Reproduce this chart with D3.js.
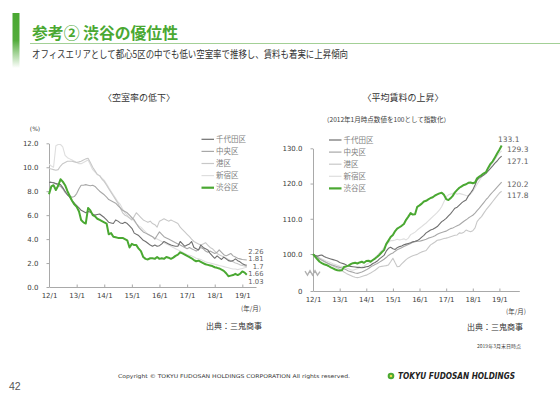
<!DOCTYPE html>
<meta charset="utf-8">
<title>参考② 渋谷の優位性</title>
<style>
body { margin: 0; background: #fff; }
svg { display: block; font-family: "Noto Sans CJK JP", sans-serif; }
.axis .domain, .axis line { stroke: #a9a9a9; }
.axis text { font-family: "DejaVu Sans", sans-serif; font-size: 7px; fill: #404040; }
</style>
<svg width="560" height="396"></svg>
<script src="https://cdn.jsdelivr.net/npm/d3@7/dist/d3.min.js"></script>
<script>
// ---- data (monthly, 2012/1 onwards) ----
var wards = ["千代田区", "中央区", "港区", "新宿区", "渋谷区"];
var wardColors = ["#6f6f6f", "#a8a8a8", "#c8c8c8", "#dedede", "#4aa832"];
var xTickLabels = ["12/1", "13/1", "14/1", "15/1", "16/1", "17/1", "18/1", "19/1"];
var vacancyTicks = [0, 2, 4, 6, 8, 10, 12];
var rentTicks = [100, 110, 120, 130];
var vacancyEndLabels = ["2.26", "1.81", "1.7", "1.66", "1.03"];
var rentEndLabels = ["133.1", "129.3", "127.1", "120.2", "117.8"];

// vacancy rate (%), 2012/1 - 2019/3
var vacChiyoda = [8.75,8.72,8.7,8.65,8.6,8.55,8.3,8.0,7.7,7.5,7.2,7.0,
  6.8,6.6,6.4,6.3,6.2,6.3,6.25,6.1,6.0,6.05,6.1,5.95,
  5.8,5.6,5.4,5.35,5.3,5.6,5.5,5.35,5.3,5.4,5.3,5.1,
  4.9,4.5,4.4,4.3,4.1,3.9,3.8,3.65,3.5,3.4,3.5,3.4,
  3.45,3.6,3.8,3.7,3.6,3.5,3.45,3.4,3.4,3.8,3.6,3.4,
  3.5,3.6,3.8,3.3,3.2,3.1,3.5,3.3,3.2,3.1,2.8,2.6,
  2.4,2.6,2.45,2.3,2.5,2.35,2.2,2.15,2.2,2.35,2.2,2.1,
  1.95,1.85,1.81];
var vacChuo = [8.8,8.75,8.7,8.6,8.5,8.4,8.2,7.9,7.7,7.6,7.5,7.55,
  7.8,8.2,8.5,8.5,8.55,8.5,8.45,8.5,8.4,8.2,8.0,7.85,
  7.7,7.5,7.3,7.2,7.1,7.0,6.8,6.6,6.4,6.3,6.2,6.0,
  5.8,5.6,5.3,5.0,4.8,4.6,4.5,4.4,4.3,4.2,4.0,4.3,
  4.6,4.4,4.2,4.1,4.0,3.9,3.8,3.7,3.6,3.5,3.4,3.3,
  3.2,3.3,3.2,3.1,3.0,3.1,3.3,3.2,3.0,2.9,3.0,2.9,
  2.8,2.9,3.1,2.9,2.7,2.6,2.7,2.8,2.6,2.5,2.4,2.35,
  2.3,2.28,2.26];
var vacMinato = [9.9,9.85,9.8,9.75,9.8,10.1,10.3,10.4,10.5,10.5,10.5,10.45,
  10.4,10.45,10.5,10.6,10.7,10.75,10.4,10.0,9.7,9.4,9.3,9.0,
  8.8,8.5,8.2,7.9,7.6,7.3,7.0,6.6,6.2,6.0,5.9,5.75,
  5.6,5.9,6.2,6.0,5.8,5.6,5.5,5.4,5.5,5.3,5.2,5.0,
  5.5,5.6,5.7,5.6,5.5,5.6,5.5,5.4,5.3,5.0,4.8,4.6,
  4.4,4.2,4.0,3.8,3.7,3.6,3.5,3.6,3.7,3.5,3.3,3.2,
  3.0,2.8,2.7,2.6,2.5,2.4,2.3,2.2,2.1,2.0,1.95,1.85,
  1.8,1.75,1.7];
var vacShinjuku = [10.25,10.1,10.0,11.8,11.9,11.9,11.7,11.0,10.8,10.7,10.6,10.5,
  10.4,10.3,10.3,10.4,10.5,10.6,10.2,9.8,9.6,9.4,9.3,9.1,
  8.9,8.6,8.3,8.0,7.7,7.4,7.1,6.9,6.5,6.2,6.0,5.8,
  5.7,5.5,5.3,5.1,5.0,4.8,4.6,4.4,4.3,4.2,4.1,4.0,
  3.9,3.8,3.7,3.6,3.5,3.4,3.3,3.2,3.1,3.0,2.9,2.8,
  2.7,2.65,2.6,2.5,2.4,2.35,2.3,2.2,2.1,2.05,2.0,1.95,
  1.9,1.85,1.8,1.75,1.7,1.65,1.6,1.55,1.5,1.5,1.45,1.5,
  1.55,1.6,1.66];
var vacShibuya = [7.75,8.4,8.5,8.1,8.45,9.0,8.8,8.5,8.0,7.6,7.2,6.9,
  6.7,6.3,5.6,5.4,5.3,6.6,6.4,6.0,5.9,5.7,5.6,5.5,
  5.4,5.3,4.4,4.5,4.2,4.15,4.1,4.1,4.1,4.0,3.9,3.3,
  3.6,3.5,3.5,3.2,3.0,2.5,2.35,2.3,2.4,2.4,2.35,2.5,
  2.35,2.4,2.35,2.5,2.45,2.35,2.45,2.6,2.7,2.9,2.8,2.7,
  2.6,2.5,2.4,2.25,2.15,2.2,2.1,2.0,1.9,1.85,1.8,1.75,
  1.65,1.6,1.55,1.45,1.35,1.15,0.9,0.95,1.0,1.1,1.0,1.1,
  1.3,1.2,1.03];

// average rent index (2012/1 = 100), 2012/1 - 2019/2
var rentChiyoda = [100,99.6,99.4,99.6,99.7,99.3,99.0,98.8,98.6,98.4,98.2,98.0,
  97.6,97.4,97.2,96.9,96.6,96.5,96.4,96.3,96.2,96.2,96.1,96.2,
  96.4,96.5,96.8,97.3,97.6,98.0,98.6,99.1,99.6,100.8,101.6,101.9,
  101.5,101.3,101.8,102.1,102.3,102.6,102.8,103.0,103.2,103.5,103.6,103.8,
  104.2,104.8,105.3,106.0,106.4,106.8,107.0,107.4,107.8,108.5,109.2,109.6,
  110.1,110.8,111.4,112.2,113.0,113.3,113.9,114.5,115.0,115.3,116.5,117.3,
  118.2,119.6,121.0,121.6,122.0,122.4,122.9,123.6,124.3,125.0,125.8,126.4,
  127.2,127.8];
var rentChuo = [100,99.5,99.0,98.6,98.2,97.9,97.6,97.3,97.0,96.8,96.6,96.4,
  96.2,96.0,95.8,95.5,95.2,95.0,94.8,94.6,94.5,94.7,94.9,95.2,
  95.5,95.9,96.3,96.7,97.0,97.3,97.7,98.1,98.5,99.0,99.6,100.0,
  100.3,100.8,101.2,101.5,101.8,102.1,102.4,102.7,103.0,103.3,103.5,103.6,
  103.6,103.8,104.0,104.2,104.5,104.7,104.9,105.2,105.6,105.9,106.1,106.3,
  106.5,106.9,107.2,107.4,107.7,108.0,108.3,108.8,109.3,109.7,110.2,110.6,
  111.0,111.6,112.3,113.0,113.8,114.6,115.4,116.1,116.9,117.6,118.3,119.0,
  119.7,120.4];
var rentMinato = [100,99.6,99.2,98.8,98.4,98.0,97.6,97.2,96.9,96.6,96.3,96.0,
  95.7,95.3,94.9,94.5,94.2,93.9,93.6,93.4,93.3,93.4,93.6,93.8,
  94.0,94.3,94.6,95.0,95.4,95.9,96.4,96.5,96.6,96.7,96.9,97.8,
  98.8,97.5,96.4,96.5,97.2,97.8,98.4,98.9,99.2,99.5,99.7,99.9,
  100.3,100.6,100.8,101.0,101.8,102.6,103.0,103.4,103.9,104.0,104.2,104.4,
  104.5,104.7,104.9,105.1,105.3,105.4,106.0,105.9,106.2,106.8,106.5,106.3,
  106.6,107.4,109.2,110.0,110.6,111.6,112.5,113.3,114.1,114.9,115.7,116.5,
  117.3,117.8];
var rentShinjuku = [100,99.6,99.2,98.9,98.6,98.3,98.0,97.8,97.5,97.2,97.0,96.8,
  96.6,96.5,96.3,96.0,95.8,95.5,95.4,95.6,95.8,96.0,96.3,96.6,
  97.0,97.4,97.9,98.4,99.0,99.6,100.3,101.0,101.8,102.5,103.2,103.8,
  103.8,104.0,104.2,104.0,104.1,104.3,104.0,104.5,105.5,105.8,106.2,106.8,
  107.3,107.8,108.3,108.8,109.4,110.0,110.6,111.2,111.8,112.5,113.5,114.8,
  116.2,116.8,117.0,117.2,117.2,117.0,117.2,117.0,116.8,116.6,116.5,117.0,
  117.8,118.8,119.8,120.8,121.8,122.6,123.4,124.2,125.0,125.9,126.8,127.8,
  128.6,129.3];
var rentShibuya = [100,99.2,98.5,97.8,97.4,97.1,96.9,96.6,96.2,95.9,95.6,95.4,
  95.3,95.4,96.3,96.5,96.7,97.1,97.4,97.5,97.3,97.6,97.8,97.5,
  98.0,98.1,97.8,98.3,98.7,99.2,99.8,100.5,101.1,102.8,103.8,104.8,
  105.4,106.5,107.2,107.6,108.0,108.5,109.7,110.6,111.6,111.2,111.3,113.4,
  113.8,114.3,114.9,115.1,115.5,115.9,116.1,116.6,116.9,117.2,117.4,116.8,
  115.6,115.3,115.8,116.5,117.5,118.2,118.8,119.2,119.6,119.8,120.2,120.3,
  120.1,120.3,121.5,122.0,122.4,122.9,123.2,124.5,125.6,126.3,127.4,128.5,
  129.6,130.8];

var vacancySeries = [vacChiyoda, vacChuo, vacMinato, vacShinjuku, vacShibuya];
var rentSeries = [rentChiyoda, rentChuo, rentMinato, rentShinjuku, rentShibuya];

// ---- page ----
var svg = d3.select("svg");
var green = "#4aa832";
var monthDate = function(i) { return new Date(2012, i, 1); };
var yearTicks = xTickLabels.map(function(d, i) { return new Date(2012 + i, 0, 1); });

var defs = svg.append("defs");
var grad = defs.append("linearGradient").attr("id", "barFade")
    .attr("x1", 0).attr("y1", 0).attr("x2", 0).attr("y2", 1);
grad.append("stop").attr("offset", "0%").attr("stop-color", green).attr("stop-opacity", 1);
grad.append("stop").attr("offset", "50%").attr("stop-color", green).attr("stop-opacity", 0.95);
grad.append("stop").attr("offset", "100%").attr("stop-color", green).attr("stop-opacity", 0);

svg.append("rect").attr("x", 12.5).attr("y", 13).attr("width", 7).attr("height", 55)
    .attr("fill", "url(#barFade)");

svg.append("text").attr("x", 32).attr("y", 39)
    .attr("font-size", 16).attr("font-weight", "bold").attr("fill", green)
    .attr("textLength", 146).attr("lengthAdjust", "spacingAndGlyphs")
    .text("参考② 渋谷の優位性");
svg.append("line").attr("x1", 30).attr("x2", 560).attr("y1", 43.5).attr("y2", 43.5)
    .attr("stroke", "#a3d096").attr("stroke-width", 1);
svg.append("text").attr("x", 32).attr("y", 57.5)
    .attr("font-size", 10).attr("fill", "#333")
    .attr("textLength", 316).attr("lengthAdjust", "spacingAndGlyphs")
    .text("オフィスエリアとして都心5区の中でも低い空室率で推移し、賃料も着実に上昇傾向");

function drawChart(cfg) {
  var g = svg.append("g");
  var x = d3.scaleTime().domain(cfg.xDomain).range(cfg.xRange);
  var y = d3.scaleLinear().domain(cfg.yDomain).range(cfg.yRange);

  g.append("g").attr("class", "axis")
    .attr("transform", "translate(0," + cfg.yRange[0] + ")")
    .call(d3.axisBottom(x).tickValues(yearTicks).tickSizeInner(-2.5).tickSizeOuter(0)
      .tickPadding(6).tickFormat(function(d, i) { return xTickLabels[i]; }));

  g.append("g").attr("class", "axis")
    .attr("transform", "translate(" + cfg.xRange[0] + ",0)")
    .call(d3.axisLeft(y).tickValues(cfg.yTicks).tickSizeInner(2.5).tickSizeOuter(0)
      .tickPadding(8).tickFormat(cfg.yFormat));

  var line = d3.line()
    .x(function(d, i) { return x(monthDate(i)); })
    .y(function(d) { return y(d); });

  var order = [3, 2, 1, 0, 4];
  g.append("g").selectAll("path")
    .data(order)
    .enter().append("path")
    .attr("d", function(k) { return line(cfg.series[k]); })
    .attr("fill", "none")
    .attr("stroke", function(k) { return wardColors[k]; })
    .attr("stroke-width", function(k) { return k === 4 ? 2 : 1.1; })
    .attr("stroke-linejoin", "round");

  var legend = g.append("g").selectAll("g")
    .data(wards)
    .enter().append("g")
    .attr("transform", function(d, i) { return "translate(" + cfg.legendX + "," + (cfg.legendY + i * 12.1) + ")"; });
  legend.append("line").attr("x1", 0).attr("x2", 12.5)
    .attr("stroke", function(d, i) { return wardColors[i]; })
    .attr("stroke-width", function(d, i) { return i === 4 ? 2.2 : 1.2; });
  legend.append("text").attr("x", 14.5).attr("dy", "0.35em")
    .attr("font-size", 7.5).attr("fill", "#7f7f7f")
    .text(function(d) { return d; });

  g.append("g").selectAll("text")
    .data(cfg.endLabels)
    .enter().append("text")
    .attr("x", function(d, i) { return cfg.endX[i]; })
    .attr("y", function(d, i) { return cfg.endY[i]; })
    .attr("dy", "0.35em")
    .attr("text-anchor", cfg.endAnchor)
    .attr("font-family", "DejaVu Sans")
    .attr("font-size", cfg.endSize).attr("fill", "#5f5f5f")
    .text(function(d) { return d; });

  g.append("text").attr("x", cfg.titleX).attr("y", 101).attr("text-anchor", "middle")
    .attr("font-size", 9).attr("fill", "#333").text(cfg.title);

  g.append("text").attr("x", cfg.unitX).attr("y", cfg.unitY).attr("dy", "0.35em")
    .attr("text-anchor", "middle").attr("font-size", 6.5).attr("fill", "#404040")
    .text("(年/月)");
  g.append("text").attr("x", cfg.srcX).attr("y", cfg.srcY).attr("dy", "0.35em")
    .attr("text-anchor", "end").attr("font-size", 8).attr("fill", "#333")
    .text("出典：三鬼商事");
  return { g: g, x: x, y: y };
}

// left: vacancy
var left = drawChart({
  series: vacancySeries,
  xDomain: [new Date(2012, 0, 1), new Date(2019, 6, 1)], xRange: [49, 256],
  yDomain: [0, 12], yRange: [287, 143.3], yTicks: vacancyTicks,
  yFormat: function(d) { return d.toFixed(1); },
  legendX: 201.5, legendY: 139.3,
  endLabels: vacancyEndLabels, endAnchor: "end", endSize: 6.8,
  endX: [263.5, 263.5, 263.5, 263.5, 263.5], endY: [251.3, 258.9, 266.5, 274.1, 281.7],
  title: "〈空室率の低下〉", titleX: 139,
  unitX: 251, unitY: 308.5, srcX: 262, srcY: 326.3
});
left.g.append("text").attr("x", 35).attr("y", 129).attr("dy", "0.35em")
  .attr("text-anchor", "middle").attr("font-family", "DejaVu Sans").attr("font-size", 6)
  .attr("fill", "#404040").text("(%)");

// right: rent index (broken axis, bottom labelled 0)
var right = drawChart({
  series: rentSeries,
  xDomain: [new Date(2012, 0, 1), new Date(2019, 9, 1)], xRange: [313, 519.3],
  yDomain: [89.5, 130], yRange: [291, 148.3], yTicks: [89.5].concat(rentTicks),
  yFormat: function(d) { return d === 89.5 ? "0" : d.toFixed(1); },
  legendX: 329, legendY: 140,
  endLabels: rentEndLabels, endAnchor: "start", endSize: 7.5,
  endX: [498, 507, 507, 507, 507], endY: [139.3, 149.3, 161, 184, 195],
  title: "〈平均賃料の上昇〉", titleX: 403,
  unitX: 516, unitY: 312, srcX: 523, srcY: 326.7
});
right.g.append("text").attr("x", 386.5).attr("y", 120).attr("dy", "0.35em")
  .attr("text-anchor", "middle").attr("font-size", 6.3).attr("fill", "#404040")
  .attr("textLength", 127).attr("lengthAdjust", "spacingAndGlyphs")
  .text("（2012年1月時点数値を100として指数化）");
right.g.append("text").attr("x", 499).attr("y", 346.7).attr("dy", "0.35em")
  .attr("text-anchor", "middle").attr("font-size", 5).attr("fill", "#404040")
  .text("2019年3月末日時点");
// axis break mark
var by = right.y(94.7), bx = right.x(new Date(2012, 0, 1));
right.g.append("path")
  .attr("d", "M" + (bx - 8) + "," + (by - 1.5) + "l2.5,4l2.5,-4.5l2.5,4.5l2.5,-4.5l2.5,4.5l2.5,-3.5")
  .attr("fill", "none").attr("stroke", "#b0b0b0").attr("stroke-width", 1.3);

// footer
svg.append("text").attr("x", 9).attr("y", 390).attr("font-family", "Liberation Sans")
  .attr("font-size", 10.5).attr("fill", "#555").text("42");
svg.append("text").attr("x", 118).attr("y", 377.5).attr("font-family", "DejaVu Sans")
  .attr("font-size", 5.2).attr("fill", "#333")
  .attr("textLength", 232).attr("lengthAdjust", "spacingAndGlyphs")
  .text("Copyright © TOKYU FUDOSAN HOLDINGS CORPORATION All rights reserved.");
svg.append("circle").attr("cx", 391).attr("cy", 376).attr("r", 3.3).attr("fill", green);
svg.append("circle").attr("cx", 391).attr("cy", 376).attr("r", 1.3).attr("fill", "#e8e04a");
svg.append("text").attr("x", 398).attr("y", 379).attr("font-family", "DejaVu Sans")
  .attr("font-size", 8).attr("font-weight", "bold").attr("font-style", "italic").attr("fill", "#222")
  .attr("textLength", 117).attr("lengthAdjust", "spacingAndGlyphs")
  .text("TOKYU FUDOSAN HOLDINGS");
</script>
